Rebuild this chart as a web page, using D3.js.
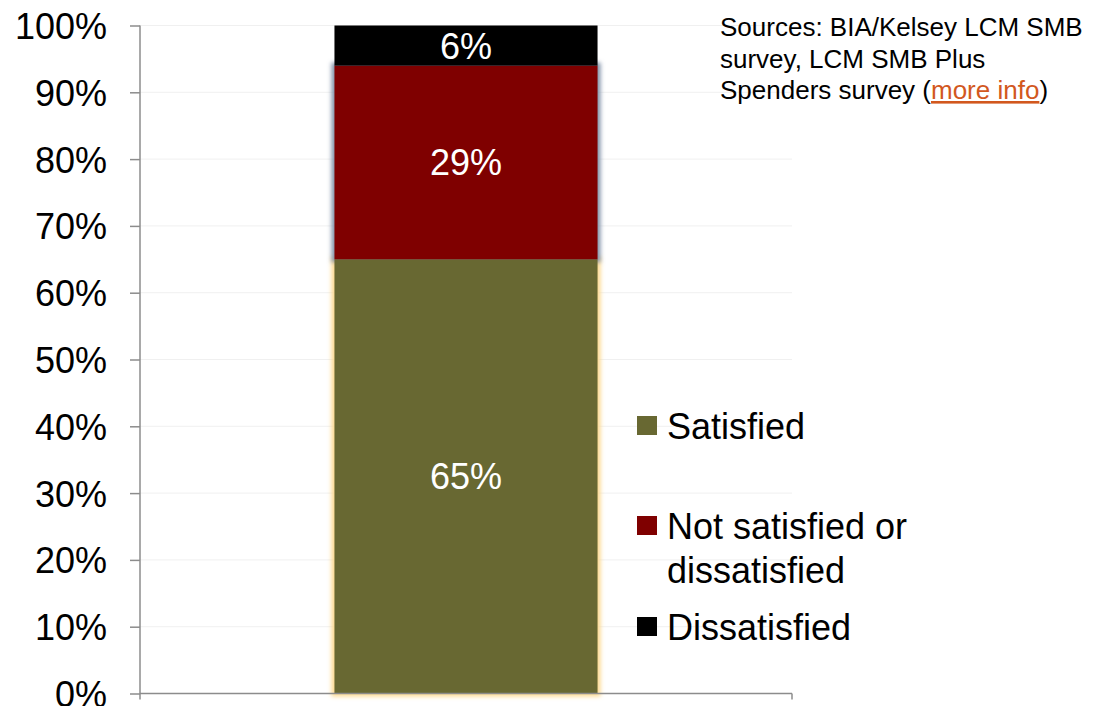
<!DOCTYPE html>
<html>
<head>
<meta charset="utf-8">
<script src="https://cdn.jsdelivr.net/npm/d3@7"></script>
<style>
  body { margin: 0; background: #fff; }
  svg { display: block; font-family: "Liberation Sans", Arial, sans-serif; }
</style>
</head>
<body>
<svg id="chart" width="1101" height="706"></svg>
<script>
// data
const categories = ["All SMBs"];
const seriesNames = ["Satisfied", "Not satisfied or dissatisfied", "Dissatisfied"];
const seriesValues = [65, 29, 6];
const seriesColors = ["#686832", "#7f0000", "#000000"];
const glowColors = ["#fcd990", "#8393aa", "none"];
const yTicks = [0, 10, 20, 30, 40, 50, 60, 70, 80, 90, 100];

const svg = d3.select("#chart");
const plotLeft = 140, plotRight = 792, plotTop = 25.5, plotBottom = 693.5;

const x = d3.scaleBand().domain(categories).range([plotLeft, plotRight]).padding(0.425);
const y = d3.scaleLinear().domain([0, 100]).range([plotBottom, plotTop]);

// glow filters for segments (dilate + blur, coloured)
const defs = svg.append("defs");
glowColors.forEach((c, i) => {
    if (c === "none") return;
    const f = defs.append("filter")
        .attr("id", "glow" + i)
        .attr("x", "-10%").attr("y", "-10%").attr("width", "120%").attr("height", "120%");
    f.append("feMorphology").attr("in", "SourceAlpha").attr("operator", "dilate").attr("radius", 3).attr("result", "fat");
    f.append("feGaussianBlur").attr("in", "fat").attr("stdDeviation", 2).attr("result", "blur");
    f.append("feFlood").attr("flood-color", c).attr("result", "col");
    f.append("feComposite").attr("in", "col").attr("in2", "blur").attr("operator", "in");
});

// gridlines
svg.append("g")
    .selectAll("line")
    .data(yTicks.slice(1))
    .join("line")
    .attr("x1", plotLeft).attr("x2", plotRight)
    .attr("y1", d => y(d)).attr("y2", d => y(d))
    .attr("stroke", "#f0f0f0")
    .attr("stroke-width", 1);

// stacked segments
let stack = [];
let acc = 0;
seriesValues.forEach((v, i) => {
    stack.push({ name: seriesNames[i], v: v, y0: acc, y1: acc + v, i: i });
    acc += v;
});

const bars = svg.append("g");
bars.selectAll("rect.glow")
    .data(stack.filter(d => glowColors[d.i] !== "none"))
    .join("rect")
    .attr("class", "glow")
    .attr("x", x(categories[0]))
    .attr("width", x.bandwidth())
    .attr("y", d => y(d.y1))
    .attr("height", d => y(d.y0) - y(d.y1))
    .attr("fill", d => seriesColors[d.i])
    .attr("filter", d => "url(#glow" + d.i + ")");

// plain segments on top so the glow stays behind
bars.selectAll("rect.seg")
    .data(stack)
    .join("rect")
    .attr("class", "seg")
    .attr("x", x(categories[0]))
    .attr("width", x.bandwidth())
    .attr("y", d => y(d.y1))
    .attr("height", d => y(d.y0) - y(d.y1))
    .attr("fill", d => seriesColors[d.i]);

// value labels
svg.append("g")
    .selectAll("text")
    .data(stack)
    .join("text")
    .attr("x", x(categories[0]) + x.bandwidth() / 2)
    .attr("y", d => y((d.y0 + d.y1) / 2))
    .attr("dy", "0.36em")
    .attr("text-anchor", "middle")
    .attr("fill", "#fff")
    .attr("font-size", 36)
    .text(d => d.v + "%");

// y axis
const yAxis = svg.append("g")
    .attr("transform", `translate(${plotLeft},0)`)
    .call(d3.axisLeft(y).tickValues(yTicks).tickFormat(d => d + "%").tickSizeInner(10).tickSizeOuter(0).tickPadding(23));
yAxis.select(".domain").remove();
yAxis.append("line")
    .attr("x1", 0).attr("x2", 0)
    .attr("y1", plotTop).attr("y2", plotBottom + 6)
    .attr("stroke", "#8c8c8c").attr("stroke-width", 1.5);
yAxis.selectAll(".tick line").attr("stroke", "#8c8c8c").attr("stroke-width", 1.5);
yAxis.selectAll(".tick text")
    .attr("font-size", 36)
    .attr("font-family", "Liberation Sans, Arial, sans-serif")
    .attr("fill", "#000")
    .attr("dy", "0.36em");

// x axis (category line with end tick, no labels)
const xAxis = svg.append("g")
    .attr("transform", `translate(0,${plotBottom})`);
xAxis.append("line")
    .attr("x1", plotLeft).attr("x2", plotRight)
    .attr("y1", 0).attr("y2", 0)
    .attr("stroke", "#8c8c8c").attr("stroke-width", 1.5);
xAxis.selectAll("line.tk")
    .data([plotRight])
    .join("line")
    .attr("class", "tk")
    .attr("x1", d => d).attr("x2", d => d)
    .attr("y1", 0).attr("y2", 6)
    .attr("stroke", "#8c8c8c").attr("stroke-width", 1.5);

// legend
const legendRows = [
    { i: 0, lines: ["Satisfied"], y: 439 },
    { i: 1, lines: ["Not satisfied or", "dissatisfied"], y: 539 },
    { i: 2, lines: ["Dissatisfied"], y: 640 }
];
const legend = svg.append("g");
legendRows.forEach(r => {
    legend.append("rect")
        .attr("x", 637).attr("y", r.y - 23)
        .attr("width", 20).attr("height", 19)
        .attr("fill", seriesColors[r.i]);
    const t = legend.append("text")
        .attr("x", 667).attr("y", r.y)
        .attr("font-size", 36)
        .attr("fill", "#000");
    r.lines.forEach((l, k) => {
        t.append("tspan").attr("x", 667).attr("dy", k === 0 ? 0 : 44).text(l);
    });
});

// source note
const note = svg.append("text")
    .attr("x", 720).attr("y", 36)
    .attr("font-size", 26)
    .attr("fill", "#000");
note.append("tspan").attr("x", 720).attr("dy", 0).text("Sources: BIA/Kelsey LCM SMB");
note.append("tspan").attr("x", 720).attr("dy", 31.5).text("survey, LCM SMB Plus");
note.append("tspan").attr("x", 720).attr("dy", 31.5).text("Spenders survey (");
note.append("tspan").attr("fill", "#d2581e").attr("text-decoration", "underline").text("more info");
note.append("tspan").text(")");
</script>
</body>
</html>
